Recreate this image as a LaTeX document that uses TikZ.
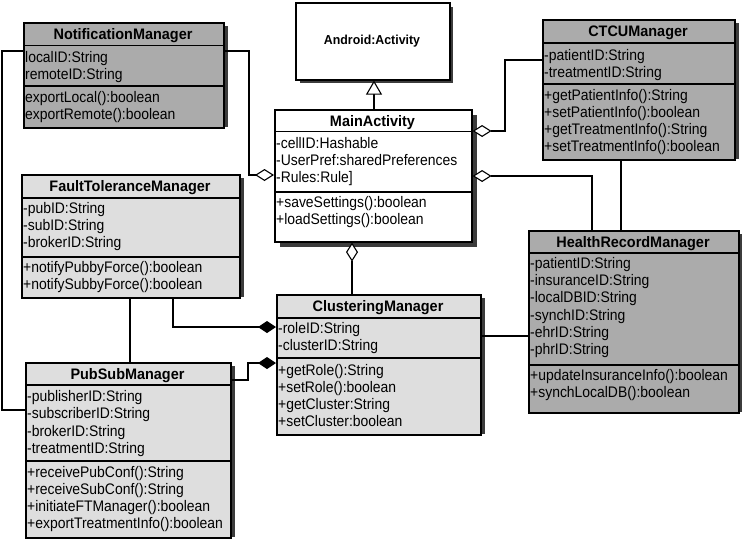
\documentclass[tikz,border=0pt]{standalone}
\usepackage{fontspec}
\setmainfont{Liberation Sans}
\newfontfamily\classfont[FakeStretch=0.91]{Liberation Sans}
\newfontfamily\titlefont[FakeStretch=0.95]{Liberation Sans}
\usetikzlibrary{arrows.meta}
\definecolor{dkfill}{HTML}{ABABAB}
\definecolor{ltfill}{HTML}{DEDEDE}
\definecolor{shad}{HTML}{3C3C3C}
\tikzset{
  cls/.style={draw=black, line width=1.6pt, inner sep=0pt, anchor=north west},
  sepline/.style={line width=1.4pt},
  txt/.style={inner sep=0pt, anchor=base west, font=\classfont\fontsize{15.3}{17}\selectfont},
  ttl/.style={inner sep=0pt, anchor=base, font=\titlefont\fontsize{15.2}{17}\selectfont\bfseries},
  con/.style={line width=1.1pt},
  agg/.style={con, {Diamond[fill=white, length=19pt, width=12pt, line width=1.1pt]}-},
  comp/.style={con, {Diamond[fill=black, length=18pt, width=12pt]}-},
  gen/.style={con, -{Triangle[fill=white, length=14pt, width=16pt, line width=1.1pt]}},
}
% #1 name #2 x1 #3 y1 #4 x2 #5 y2 #6 header bottom #7 attrs bottom #8 fill #9 title
\newcommand\umlclass[9]{%
  \fill[shad] (#4,#3+4) rectangle (#4+5,#5);
  \node[cls, fill=#8, minimum width={(#4-#2)*1pt}, minimum height={(#5-#3)*1pt}] (#1) at (#2,#3) {};
  \draw[sepline] (#2,#6) -- (#4,#6);
  \draw[sepline] (#2,#7) -- (#4,#7);
  \node[ttl] (#1-t) at ({(#2+#4)/2},{(#3+#6)/2+5.5}) {#9};
}
% #1 prefix #2 x #3 first baseline #4 list
\newcommand\umllines[4]{%
  \foreach \t [count=\i from 0] in {#4} {\node[txt] (#1\i) at (#2,{#3+\i*17.2}) {\t};}
}
\begin{document}
\begin{tikzpicture}[x=1pt,y=-1pt]
\useasboundingbox (0,0) rectangle (742,539);
\fill[white] (0,0) rectangle (742,539);

% Android:Activity
\fill[shad] (300,7) rectangle (453,83);
\node[cls, fill=white, minimum width=154pt, minimum height=77pt] (aa) at (295,2) {};
\node[inner sep=0pt, font=\titlefont\fontsize{13}{15}\selectfont\bfseries] (aa-t) at (372,41) {Android:Activity};

% MainActivity
\fill[shad] (280,115) rectangle (477,247);
\node[cls, fill=white, minimum width=197pt, minimum height=132pt] (ma) at (274,109) {};
\draw[sepline] (274,131.5) -- (471,131.5);
\draw[sepline] (274,192) -- (471,192);
\node[ttl] (ma-t) at (372.5,126.5) {MainActivity};
\umllines{maa}{276}{148.5}{-cellID:Hashable, -UserPref:sharedPreferences, {-Rules:Rule]}}
\umllines{mam}{276}{207}{+saveSettings():boolean, +loadSettings():boolean}

% NotificationManager
\umlclass{nm}{23}{22}{223}{127}{45.5}{86}{dkfill}{NotificationManager}
\umllines{nma}{25}{62.5}{localID:String, remoteID:String}
\umllines{nmm}{25}{102.5}{exportLocal():boolean, exportRemote():boolean}

% CTCUManager
\umlclass{ctcu}{542}{19}{734}{159}{43}{84}{dkfill}{CTCUManager}
\umllines{cta}{544}{60.5}{-patientID:String, -treatmentID:String}
\umllines{ctm}{544}{100}{+getPatientInfo():String, +setPatientInfo():boolean, +getTreatmentInfo():String, +setTreatmentInfo():boolean}

% FaultToleranceManager
\umlclass{ft}{21}{174}{239}{297}{198}{257}{ltfill}{FaultToleranceManager}
\umllines{fta}{23}{213.5}{-pubID:String, -subID:String, -brokerID:String}
\umllines{ftm}{23}{272}{+notifyPubbyForce():boolean, +notifySubbyForce():boolean}

% ClusteringManager
\umlclass{cm}{276}{294}{480}{434}{318}{358}{ltfill}{ClusteringManager}
\umllines{cma}{278}{333.5}{-roleID:String, -clusterID:String}
\umllines{cmm}{278}{375}{+getRole():String, +setRole():boolean, +getCluster:String, +setCluster:boolean}

% HealthRecordManager
\umlclass{hrm}{528}{230}{738}{412}{253}{365}{dkfill}{HealthRecordManager}
\umllines{hra}{530}{268.5}{-patientID:String, -insuranceID:String, -localDBID:String, -synchID:String, -ehrID:String, -phrID:String}
\umllines{hrm}{530}{380}{+updateInsuranceInfo():boolean, +synchLocalDB():boolean}

% PubSubManager
\umlclass{ps}{25}{362}{230}{537}{385}{461}{ltfill}{PubSubManager}
\umllines{psa}{27}{401.7}{-publisherID:String, -subscriberID:String, -brokerID:String, -treatmentID:String}
\umllines{psm}{27}{477}{+receivePubConf():String, +receiveSubConf():String, +initiateFTManager():boolean, +exportTreatmentInfo():boolean}

% connectors
\draw[con] (nm.west |- 0,51) -- (2,51) -- (2,410) -- (ps.west |- 0,410);
\draw[agg] (ma.west |- 0,175) -- (249,175) -- (249,51) -- (nm.east |- 0,51);
\draw[agg] (ma.east |- 0,131) -- (505,131) -- (505,60) -- (ctcu.west |- 0,60);
\draw[agg] (ma.east |- 0,176) -- (592,176) -- (hrm.north -| 592,0);
\draw[con] (ctcu.south -| 621,0) -- (hrm.north -| 621,0);
\draw[agg] (ma.south -| 352,0) -- (cm.north -| 352,0);
\draw[gen] (ma.north -| 374,0) -- (aa.south -| 374,0);
\draw[comp] (cm.west |- 0,327) -- (173,327) -- (ft.south -| 173,0);
\draw[comp] (cm.west |- 0,363) -- (248,363) -- (248,380) -- (ps.east |- 0,380);
\draw[con] (ft.south -| 130,0) -- (ps.north -| 130,0);
\draw[con] (cm.east |- 0,336) -- (hrm.west |- 0,336);
\end{tikzpicture}
\end{document}
